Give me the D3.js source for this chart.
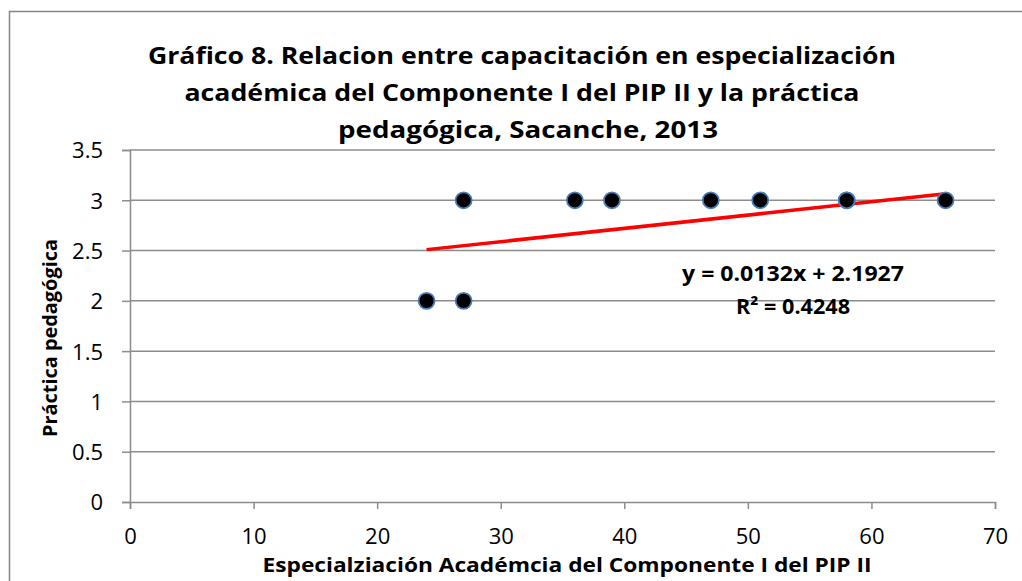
<!DOCTYPE html>
<html><head><meta charset="utf-8">
<script src="https://cdn.jsdelivr.net/npm/d3@7"></script>
<style>body{margin:0;background:#fff;} text{font-family:"Open Sans",sans-serif;}</style>
</head><body>
<svg id="c" width="1022" height="581"></svg>
<script>
const xValues = [24, 27, 27, 36, 39, 47, 51, 58, 58, 66];
const yValues = [2, 2, 3, 3, 3, 3, 3, 3, 3, 3];
const xTicks = [0, 10, 20, 30, 40, 50, 60, 70];
const yTicks = [0, 0.5, 1, 1.5, 2, 2.5, 3, 3.5];
const slope = 0.0132, intercept = 2.1927;
const trendRange = [24, 66];
const titleLines = ["Gráfico 8. Relacion entre capacitación en especialización",
  "académica del Componente I del PIP II y la práctica",
  "pedagógica, Sacanche, 2013"];
const xTitle = "Especialziación Académcia del Componente I del PIP II";
const yTitle = "Práctica pedagógica";
const eqText = "y = 0.0132x + 2.1927";
const r2Text = "R² = 0.4248";

const svg = d3.select("#c");
svg.append("rect").attr("x",9.5).attr("y",11.5).attr("width",1030).attr("height",600)
  .attr("fill","#fff").attr("stroke","#868686").attr("stroke-width",1.5);

const x = d3.scaleLinear().domain([0,70]).range([130,995]);
const y = d3.scaleLinear().domain([0,3.5]).range([502,150]);
const grid = "#8c8c8c";

// gridlines
svg.append("g").selectAll("line").data(yTicks.filter(d=>d>0)).join("line")
  .attr("x1",x(0)).attr("x2",x(70)).attr("y1",d=>y(d)).attr("y2",d=>y(d))
  .attr("stroke",grid).attr("stroke-width",1.5);

// axes
const xa = svg.append("g").attr("transform",`translate(0,${y(0)})`)
  .call(d3.axisBottom(x).tickValues(xTicks).tickSize(7).tickPadding(19).tickFormat(d3.format("d")));
const ya = svg.append("g").attr("transform",`translate(${x(0)},0)`)
  .call(d3.axisLeft(y).tickValues(yTicks).tickSize(8).tickPadding(19).tickFormat(d=>String(d)));
[xa,ya].forEach(a=>{
  a.select(".domain").attr("stroke",grid).attr("stroke-width",1.5);
  a.selectAll(".tick line").attr("stroke",grid).attr("stroke-width",1.5);
  a.selectAll(".tick text").attr("font-size",22).attr("fill","#000").attr("font-family","Open Sans");
});
ya.selectAll(".tick text").attr("dy","0.36em");

// trendline
svg.append("line")
  .attr("x1",x(trendRange[0])).attr("y1",y(slope*trendRange[0]+intercept))
  .attr("x2",x(trendRange[1])).attr("y2",y(slope*trendRange[1]+intercept))
  .attr("stroke","#ff0000").attr("stroke-width",3.5);

// points
svg.append("g").selectAll("circle").data(xValues.map((v,i)=>[v,yValues[i]])).join("circle")
  .attr("cx",d=>x(d[0])).attr("cy",d=>y(d[1])).attr("r",8)
  .attr("fill","#000").attr("stroke","#4a7ebb").attr("stroke-width",1.75);

// title
const tl = [[522,64,748],[522,101,675],[528,138,380]];
svg.append("g").selectAll("text").data(titleLines).join("text")
  .attr("x",(d,i)=>tl[i][0]).attr("y",(d,i)=>tl[i][1]).attr("text-anchor","middle")
  .attr("font-size",24).attr("font-weight","bold").attr("fill","#000")
  .attr("textLength",(d,i)=>tl[i][2]).attr("lengthAdjust","spacingAndGlyphs")
  .text(d=>d);

// equation
svg.append("text").attr("x",793).attr("y",281).attr("text-anchor","middle")
  .attr("font-size",21).attr("font-weight","bold").attr("textLength",222).attr("lengthAdjust","spacingAndGlyphs").text(eqText);
svg.append("text").attr("x",793).attr("y",314).attr("text-anchor","middle")
  .attr("font-size",21).attr("font-weight","bold").attr("textLength",114).attr("lengthAdjust","spacingAndGlyphs").text(r2Text);

// axis titles
svg.append("text").attr("x",567).attr("y",572).attr("text-anchor","middle")
  .attr("font-size",20).attr("font-weight","bold").attr("textLength",609).attr("lengthAdjust","spacingAndGlyphs").text(xTitle);
svg.append("text").attr("transform","translate(57,338) rotate(-90)").attr("text-anchor","middle")
  .attr("font-size",20).attr("font-weight","bold").attr("textLength",198).attr("lengthAdjust","spacingAndGlyphs").text(yTitle);
</script>
</body></html>
